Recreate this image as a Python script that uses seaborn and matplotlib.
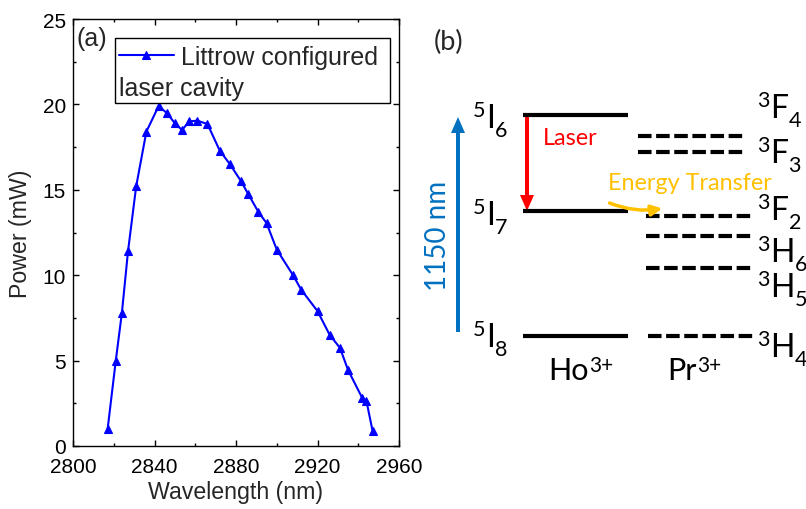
import matplotlib
matplotlib.use("Agg")
import matplotlib.pyplot as plt
import seaborn as sns
import pandas as pd
from matplotlib.patches import Rectangle

# ---------------- data (panel a) ----------------
wavelength = [2817, 2821, 2824, 2827, 2831, 2836, 2842, 2846, 2850, 2853.5, 2857, 2861,
              2866, 2872, 2877, 2882.5, 2886, 2891, 2895, 2900, 2908, 2912, 2920, 2926,
              2931, 2935, 2942, 2944, 2947]
power = [1.0, 5.0, 7.8, 11.4, 15.2, 18.4, 19.9, 19.5, 18.9, 18.5, 19.0, 19.05,
         18.85, 17.3, 16.5, 15.5, 14.75, 13.7, 13.05, 11.5, 10.0, 9.15, 7.9, 6.5,
         5.75, 4.45, 2.8, 2.65, 0.9]
x_ticks = [2800, 2840, 2880, 2920, 2960]
y_ticks = [0, 5, 10, 15, 20, 25]
series_label = "Littrow configured"
series_label2 = "laser cavity"

# ---------------- diagram (panel b) ----------------
ho_levels_y = [116, 212, 337]
ho_terms = [("5", "I", "6"), ("5", "I", "7"), ("5", "I", "8")]
ho_label_base = [128, 225, 347]
pr_levels_y = [137, 153, 217, 237, 269, 337]
pr_levels_x0 = [638, 638, 646, 646, 646, 648]
pr_terms = [("3", "F", "4"), ("3", "F", "3"), ("3", "F", "2"),
            ("3", "H", "6"), ("3", "H", "5"), ("3", "H", "4")]
pr_label_base = [118, 163, 220, 262, 297, 357]
ions = [("Ho", "3+"), ("Pr", "3+")]
ion_x = [548, 667]

sns.set_theme(style="ticks")
plt.rcParams["font.family"] = ["Liberation Sans", "DejaVu Sans"]
plt.rcParams["axes.linewidth"] = 1.0

fig = plt.figure(figsize=(8.06, 5.10), dpi=100)
ax = fig.add_axes([73 / 806, 1 - 447 / 510, 326 / 806, 427 / 510])

df = pd.DataFrame({"Wavelength": wavelength, "Power": power})
sns.lineplot(data=df, x="Wavelength", y="Power", ax=ax, color="blue", lw=1.5,
             marker="^", markersize=6, markeredgecolor="blue", markeredgewidth=0.8,
             legend=False, sort=False)

ax.set_xlim(2800, 2960)
ax.set_ylim(0, 25)
ax.set_xticks(x_ticks)
ax.set_yticks(y_ticks)
ax.set_xticks([v + 20 for v in x_ticks[:-1]], minor=True)
ax.set_yticks([v + 2.5 for v in y_ticks[:-1]], minor=True)
ax.tick_params(which="both", direction="in", top=True, right=True, width=1.0, colors="black")
ax.tick_params(which="major", length=4, labelsize=15)
ax.tick_params(axis="x", which="major", pad=8)
ax.tick_params(axis="y", which="major", pad=5)
ax.tick_params(which="minor", length=2.5)
ax.set_xlabel("Wavelength (nm)", fontsize=16.7, labelpad=3)
ax.set_ylabel("Power (mW)", fontsize=16.7, labelpad=8)
for s in ax.spines.values():
    s.set_color("black")

ax.text(0.012, 0.984, "(a)", transform=ax.transAxes, fontsize=18, ha="left", va="top")

# legend (two-line label wrapping under handle)
ax.add_patch(Rectangle((0.129, 0.803), 0.843, 0.1525, transform=ax.transAxes,
                       facecolor="white", edgecolor="black", lw=1.0, zorder=4))
leg = ax.legend(handles=[ax.lines[0]], labels=[series_label], loc="upper left",
                bbox_to_anchor=(0.141, 0.939), borderaxespad=0, borderpad=0,
                frameon=False, fontsize=18, handlelength=2.2, handletextpad=0.3)
leg.set_zorder(5)
ax.text(0.141, 0.839, series_label2, transform=ax.transAxes, fontsize=18,
        ha="left", va="center", zorder=6)

# ---------------- panel b ----------------
ax2 = fig.add_axes([0.5, 0, 0.5, 1])
ax2.set_xlim(403, 806)
ax2.set_ylim(510, 0)
ax2.axis("off")
bfont = ["Lato", "DejaVu Sans"]
fig.canvas.draw()
renderer = fig.canvas.get_renderer()


def rich(x, base, pieces, color="black"):
    xc = x
    for s, size, dy in pieces:
        t = ax2.text(xc, base + dy, s, fontsize=size, family=bfont, color=color,
                     ha="left", va="baseline")
        xc = t.get_window_extent(renderer).x1 + 0.5


ax2.text(449, 42, "(b)", fontsize=19.5, family=bfont, ha="center", va="center")

for yv in ho_levels_y:
    ax2.plot([523, 628], [yv, yv], color="black", lw=3, solid_capstyle="butt")
for (sp, m, sb), yb in zip(ho_terms, ho_label_base):
    rich(473, yb, [(sp, 15.5, -11), (m, 23, 0), (sb, 15.5, 9)])

for yv, x0 in zip(pr_levels_y, pr_levels_x0):
    ax2.plot([x0, x0 + 106], [yv, yv], color="black", lw=3, linestyle=(0, (3.25, 1.1)),
             dash_capstyle="butt")
for (sp, m, sb), yb in zip(pr_terms, pr_label_base):
    rich(757, yb, [(sp, 15.5, -11), (m, 23, 0), (sb, 15.5, 9)])

for (m, sp), xi in zip(ions, ion_x):
    rich(xi, 380, [(m, 22, 0), (sp, 15, -8)])

# arrows
ax2.arrow(458, 333, 0, -215, width=4, head_width=14, head_length=16,
          length_includes_head=True, color="#0070C0", lw=0)
ax2.text(437.5, 236, "1150 nm", fontsize=20, family=bfont, color="#0070C0",
         rotation=90, ha="center", va="center")
ax2.arrow(527, 116, 0, 96, width=4, head_width=14, head_length=16,
          length_includes_head=True, color="red", lw=0)
ax2.text(543, 139, "Laser", fontsize=16.8, family=bfont, color="red", ha="left", va="center")
ax2.text(608, 184, "Energy Transfer", fontsize=16.8, family=bfont, color="#FFC000",
         ha="left", va="center")
ax2.annotate("", xy=(665, 209), xytext=(607, 203),
             arrowprops=dict(arrowstyle="-|>", color="#FFC000", lw=2.5,
                             mutation_scale=16, connectionstyle="arc3,rad=0.15"))

fig.savefig("out.png", dpi=100)
